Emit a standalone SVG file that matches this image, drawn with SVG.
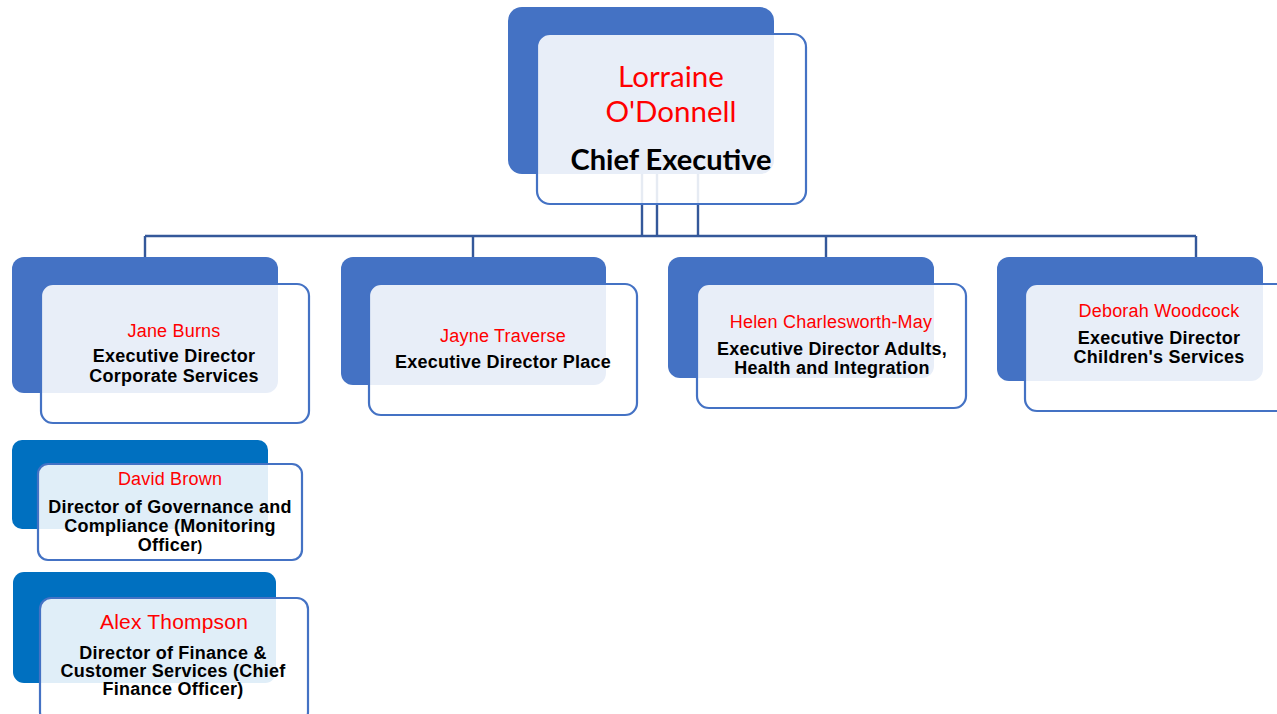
<svg xmlns="http://www.w3.org/2000/svg" width="1277" height="714" viewBox="0 0 1277 714">
<style>
.back{fill:#4472C4;}
.back2{fill:#0070C0;}
.front{fill:#FFFFFF;fill-opacity:0.88;stroke:#4472C4;stroke-width:2.2;}
.conn{stroke:#34589A;stroke-width:2.4;fill:none;}
.nm{font-family:"Liberation Sans",Arial,sans-serif;font-size:18px;fill:#FF0000;text-anchor:middle;letter-spacing:0.2px;}
.ttl{font-family:"Liberation Sans",Arial,sans-serif;font-size:18px;font-weight:bold;fill:#000000;text-anchor:middle;letter-spacing:0.25px;}
.cnm{font-family:Lato,"Open Sans",sans-serif;font-size:29.5px;fill:#FF0000;text-anchor:middle;}
.cttl{font-family:Lato,"Open Sans",sans-serif;font-size:29px;font-weight:bold;fill:#000000;text-anchor:middle;}
</style>
<rect width="1277" height="714" fill="#FFFFFF"/>
<g id="connectors">
<path class="conn" d="M145,236 H1196"/>
<path class="conn" d="M642,170 V236 M657,170 V236 M698,170 V236"/>
<path class="conn" d="M145,236 V258 M473,236 V258 M826,236 V258 M1196,236 V258"/>
</g>
<g id="node-ceo">
<rect class="back" x="508" y="7" width="266" height="167" rx="14"/>
<rect class="front" x="537" y="34" width="269" height="170" rx="13"/>
<text class="cnm" x="671" y="87">Lorraine</text>
<text class="cnm" x="671" y="122">O'Donnell</text>
<text class="cttl" x="671" y="170">Chief Executive</text>
</g>
<g id="node-jane">
<rect class="back" x="12" y="257" width="266" height="136" rx="12"/>
<rect class="front" x="41" y="284" width="268" height="139" rx="12"/>
<text class="nm" x="174" y="337">Jane Burns</text>
<text class="ttl" x="174" y="362">Executive Director</text>
<text class="ttl" x="174" y="382">Corporate Services</text>
</g>
<g id="node-jayne">
<rect class="back" x="341" y="257" width="265" height="128" rx="12"/>
<rect class="front" x="369" y="284" width="268" height="131" rx="12"/>
<text class="nm" x="503" y="342">Jayne Traverse</text>
<text class="ttl" x="503" y="368">Executive Director Place</text>
</g>
<g id="node-helen">
<rect class="back" x="668" y="257" width="266" height="121" rx="12"/>
<rect class="front" x="697" y="284" width="269" height="124" rx="12"/>
<text class="nm" x="831" y="328">Helen Charlesworth-May</text>
<text class="ttl" x="832" y="355">Executive Director Adults,</text>
<text class="ttl" x="832" y="374">Health and Integration</text>
</g>
<g id="node-deborah">
<rect class="back" x="997" y="257" width="266" height="124" rx="12"/>
<rect class="front" x="1025" y="284" width="268" height="127" rx="12"/>
<text class="nm" x="1159" y="317">Deborah Woodcock</text>
<text class="ttl" x="1159" y="344">Executive Director</text>
<text class="ttl" x="1159" y="363">Children's Services</text>
</g>
<g id="node-david">
<rect class="back2" x="12" y="440" width="256" height="89" rx="10"/>
<rect class="front" x="38" y="464" width="264" height="96" rx="10"/>
<text class="nm" x="170" y="485">David Brown</text>
<text class="ttl" x="170" y="513">Director of Governance and</text>
<text class="ttl" x="170" y="532">Compliance (Monitoring</text>
<text class="ttl" x="170" y="551">Officer<tspan font-size="14px">)</tspan></text>
</g>
<g id="node-alex">
<rect class="back2" x="13" y="572" width="263" height="111" rx="11"/>
<rect class="front" x="40" y="598" width="268" height="125" rx="11"/>
<text class="nm" x="174" y="629" style="font-size:21px">Alex Thompson</text>
<text class="ttl" x="173" y="659">Director of Finance &amp;</text>
<text class="ttl" x="173" y="677">Customer Services (Chief</text>
<text class="ttl" x="173" y="695">Finance Officer)</text>
</g>
</svg>
